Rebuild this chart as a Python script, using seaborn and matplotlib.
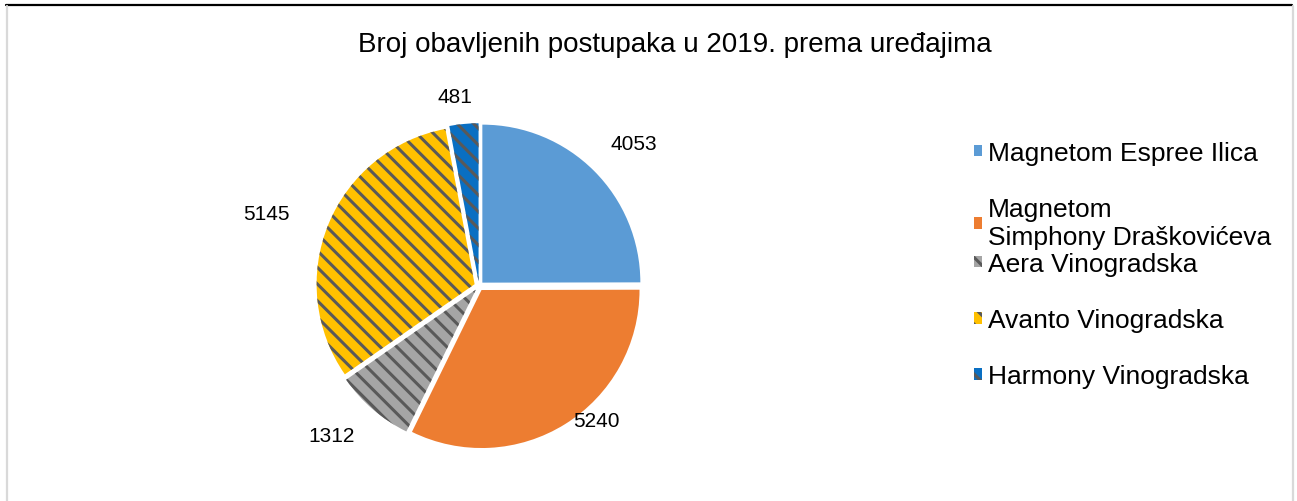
import numpy as np
import matplotlib
matplotlib.use("Agg")
import matplotlib.pyplot as plt
from matplotlib.lines import Line2D
import seaborn as sns

# ---- data ----
title = "Broj obavljenih postupaka u 2019. prema uređajima"
categories = ["Magnetom Espree Ilica",
              "Magnetom\nSimphony Draškovićeva",
              "Aera Vinogradska",
              "Avanto Vinogradska",
              "Harmony Vinogradska"]
values = [4053, 5240, 1312, 5145, 481]

# ---- style ----
sns.set_theme(style="white")
plt.rcParams['font.family'] = ['Liberation Sans', 'DejaVu Sans']
plt.rcParams['hatch.linewidth'] = 2.2

colors = sns.color_palette(["#5B9BD5", "#ED7D31", "#A5A5A5", "#FFC000", "#0A6FC2"])
hatches = [None, None, "\\\\", "\\\\", "\\\\"]
hatch_color = "#595959"
label_dist = [1.33, 1.13, 1.33, 1.42, 1.21]
label_rot = [-2.5, 9.0, -4.0, 3.5, 2.0]   # angular nudge of each label (deg)

fig = plt.figure(figsize=(12.97, 5.02), dpi=100)
fig.patch.set_facecolor("white")

# pie axes: center ~ (479, 287) px, radius ~158 px
W, H = 1297, 502
cx, cy, R = 479, 287, 158
lim = 1.3
side = 2 * lim * R
ax = fig.add_axes([(cx - side / 2) / W, (H - cy - side / 2) / H, side / W, side / H])

wedges, _ = ax.pie(values, colors=colors, startangle=90, counterclock=False,
                   explode=[0.03] * len(values), radius=1.0,
                   wedgeprops=dict(linewidth=0, edgecolor=hatch_color))
for w, h, c in zip(wedges, hatches, colors):
    if h:
        w.set_hatch(h)
        w.set_edgecolor(hatch_color)
    else:
        w.set_edgecolor(c)
    w.set_linewidth(0)

ax.set_xlim(-lim, lim)
ax.set_ylim(-lim, lim)
ax.set_aspect("equal")
ax.axis("off")

for w, v, d, r in zip(wedges, values, label_dist, label_rot):
    ang = np.deg2rad((w.theta1 + w.theta2) / 2 + r)
    ax.text(d * np.cos(ang), d * np.sin(ang), f"{v}", ha="center", va="center",
            fontsize=15, color="black")

fig.text(675 / W, 1 - 45 / H, title, ha="center", va="center", fontsize=20, color="black")

# legends (split so the two-line entry overlaps like the original)
leg_kw = dict(frameon=False, fontsize=19, handlelength=0.32, handleheight=0.32,
              handletextpad=0.22, labelspacing=1.22, borderpad=0, borderaxespad=0)
leg1 = fig.legend(wedges[:2], categories[:2], loc="upper left",
                  bbox_to_anchor=(974 / W, 1 - 142 / H), **leg_kw)
leg2 = fig.legend(wedges[2:], categories[2:], loc="upper left",
                  bbox_to_anchor=(974 / W, 1 - 253 / H), **leg_kw)
for leg in (leg1, leg2):
    for t in leg.get_texts():
        t.set_color("black")

# chart frame
fig.add_artist(Line2D([6 / W, 1292 / W], [1 - 5.5 / H, 1 - 5.5 / H], color="black", lw=1.6,
                      transform=fig.transFigure))
fig.add_artist(Line2D([6.5 / W, 6.5 / W], [0, 1 - 7 / H], color="#D9D9D9", lw=1.6,
                      transform=fig.transFigure))
fig.add_artist(Line2D([1292.5 / W, 1292.5 / W], [0, 1 - 7 / H], color="#D9D9D9", lw=1.6,
                      transform=fig.transFigure))

fig.savefig("out.png", dpi=100, facecolor="white")
